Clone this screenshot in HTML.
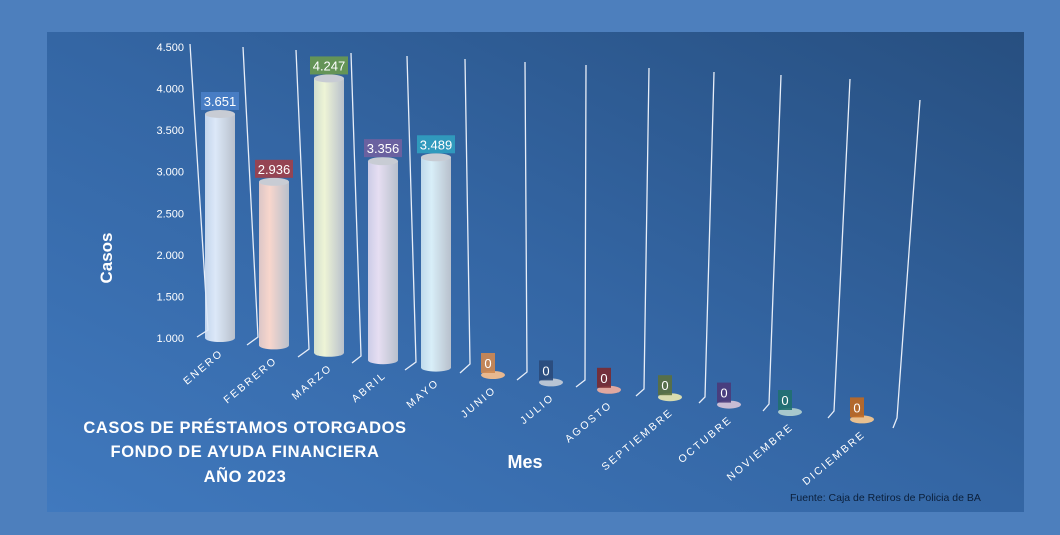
<!DOCTYPE html>
<html><head><meta charset="utf-8">
<style>
html,body{margin:0;padding:0;}
body{width:1060px;height:530px;background:#4d7fbd;font-family:"Liberation Sans",sans-serif;overflow:hidden;}
</style></head>
<body>
<svg id="chart" width="1060" height="530" viewBox="0 0 1060 530" xmlns="http://www.w3.org/2000/svg">
<defs>
<linearGradient id="panel" x1="0" y1="1" x2="1" y2="0">
<stop offset="0" stop-color="#4079be"/><stop offset="0.5" stop-color="#3466a4"/><stop offset="1" stop-color="#274f80"/>
</linearGradient>
</defs>
<rect x="0" y="0" width="1060" height="530" fill="#4d7fbd"/>
<rect x="47" y="32" width="977" height="480" fill="url(#panel)"/>
<g id="grid"></g>
<g id="yaxis"></g>
<g id="bars"></g>
<g id="xlabels"></g>
<text transform="translate(112,258) rotate(-90)" text-anchor="middle" fill="#fff" font-size="17" font-weight="bold">Casos</text>
<text x="525" y="468" text-anchor="middle" fill="#fff" font-size="18" font-weight="bold">Mes</text>
<g fill="#fff" font-size="16.5" font-weight="bold" text-anchor="middle" letter-spacing="0.6">
<text x="245" y="433">CASOS DE PRÉSTAMOS OTORGADOS</text>
<text x="245" y="457">FONDO DE AYUDA FINANCIERA</text>
<text x="245" y="482">AÑO 2023</text>
</g>
<text x="790" y="501" fill="#0b1f3a" font-size="10.5">Fuente: Caja de Retiros de Policia de BA</text>
</svg>
<script>
const categories=["ENERO","FEBRERO","MARZO","ABRIL","MAYO","JUNIO","JULIO","AGOSTO","SEPTIEMBRE","OCTUBRE","NOVIEMBRE","DICIEMBRE"];
const values=[3651,2936,4247,3356,3489,0,0,0,0,0,0,0];
const valueLabels=["3.651","2.936","4.247","3.356","3.489","0","0","0","0","0","0","0"];
const yTicks=[1000,1500,2000,2500,3000,3500,4000,4500];
const yTickLabels=["1.000","1.500","2.000","2.500","3.000","3.500","4.000","4.500"];
const barColors=["#dce8f8","#f8d6cc","#eef4d6","#e6def2","#d8eef8","#e8b890","#b8c4d4","#e0a8a0","#d8dcb0","#c8bcd4","#a8c8cc","#e8c090"];
const labelColors=["#4a80c8","#a0404a","#6a9a50","#7060a0","#30a0c0","#d08850","#2a4a7a","#7a2a30","#5a7040","#4a3a7a","#207070","#c06820"];
const NS="http://www.w3.org/2000/svg";
function mk(t,a,p){const e=document.createElementNS(NS,t);for(const k in a)e.setAttribute(k,a[k]);p.appendChild(e);return e;}
const centers=[220,274,329,383,436,493,551,609,670,729,790,862];
function xPos(i){return centers[i];}
function baseY(i){return 338+7.4*i;}
function yPos(v,i){const vv=Math.max(v,1000);return baseY(i)-(vv-1000)*0.0845;}
function axisY(v){return 338-(v-1000)*(291/3500);}
const gtop=[[190,44],[243,47],[296,50],[351,53],[407,56],[465,59],[525,62],[586,65],[649,68],[714,72],[781,75],[850,79],[920,100]];
const gbot=[[208,330],[258,337],[309,349],[361,356],[416,362],[470,364],[527,372],[585,380],[644,389],[705,397],[769,404],[834,411],[897,418]];
const gk=[[197,337],[247,345],[298,357],[352,363],[405,370],[460,373],[517,380],[576,387],[636,396],[699,403],[763,411],[828,418],[893,428]];
const G=document.getElementById('grid');
for(let i=0;i<gtop.length;i++){
 const l=mk('polyline',{points:gtop[i][0]+','+gtop[i][1]+' '+gbot[i][0]+','+gbot[i][1]+' '+gk[i][0]+','+gk[i][1],fill:'none',stroke:'#e8eef8','stroke-width':1.3},G);
 
 
}
const YA=document.getElementById('yaxis');
yTicks.forEach((t,k)=>{
 const e=mk('text',{x:184,y:axisY(t)+4,'text-anchor':'end',fill:'#fff','font-size':11},YA);
 e.textContent=yTickLabels[k];
 
 
});
const BG=document.getElementById('bars');
categories.forEach((c,i)=>{
 const cx=xPos(i),by=baseY(i),ty=yPos(values[i],i);
 const w=30, rx=w/2, ry=4;
 const g=mk('g',{},BG);
 
 
 const gid='bg'+i;
 const lg=mk('linearGradient',{id:gid,x1:0,y1:0,x2:1,y2:0},g);
 mk('stop',{offset:0,'stop-color':barColors[i],'stop-opacity':0.85},lg);
 mk('stop',{offset:0.35,'stop-color':barColors[i]},lg);
 mk('stop',{offset:1,'stop-color':'#b8c0cc'},lg);
 if(values[i]>=1000){
  mk('path',{d:'M'+(cx-rx)+','+ty+' L'+(cx-rx)+','+by+' A'+rx+','+ry+' 0 0 0 '+(cx+rx)+','+by+' L'+(cx+rx)+','+ty+' Z',fill:'url(#'+gid+')'},g);
  mk('ellipse',{cx:cx,cy:ty,rx:rx,ry:ry,fill:'#c8ccd4'},g);
 } else {
  mk('ellipse',{cx:cx,cy:by,rx:12,ry:4,fill:barColors[i]},g);
 }
 const big=values[i]>=1000;
 const bw=big?38:14, bh=big?18:20;
 const lx=big?cx:cx-5, ly=big?ty-13:by-12;
 const r=mk('rect',{x:lx-bw/2,y:ly-bh/2,width:bw,height:bh,fill:labelColors[i],opacity:0.9},g);
 
 
 const t=mk('text',{x:lx,y:ly+5,'text-anchor':'middle',fill:'#fff','font-size':13},g);
 t.textContent=valueLabels[i];
 
 
});
const XL=document.getElementById('xlabels');
categories.forEach((c,i)=>{
 const x=xPos(i)+4,y=baseY(i)+16;
 const t=mk('text',{x:x,y:y,'text-anchor':'end',fill:'#fff','font-size':10.5,'letter-spacing':2.2,transform:'rotate(-40 '+x+' '+y+')'},XL);
 t.textContent=c;
 
 
});
</script>
</body></html>
